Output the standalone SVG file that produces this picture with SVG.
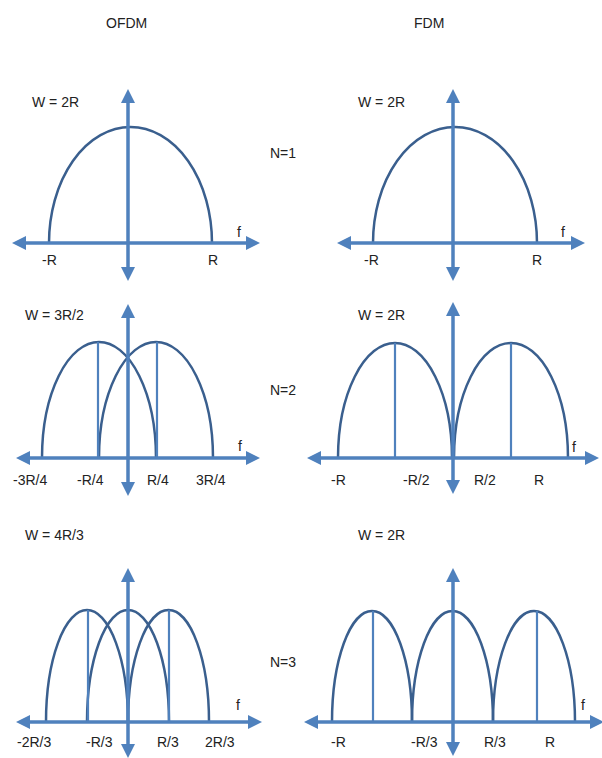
<svg xmlns="http://www.w3.org/2000/svg" width="602" height="758" viewBox="0 0 602 758">
<style>
text{font-family:"Liberation Sans",Arial,sans-serif;font-size:14px;fill:#222}
.ax{stroke:#4f81bd;stroke-width:3.5;fill:none}
.arc{stroke:#3a5f8e;stroke-width:2.5;fill:none}
.cl{stroke:#4f81bd;stroke-width:2.2;fill:none}
</style>
<defs>
<marker id="ah" markerUnits="userSpaceOnUse" markerWidth="14" markerHeight="14" viewBox="0 0 14 14" refX="4" refY="7" orient="auto-start-reverse">
<path d="M0,0 L14,7 L0,14 Z" fill="#4f81bd"/>
</marker>
</defs>
<rect width="602" height="758" fill="#fff"/>
<text x="106" y="28">OFDM</text>
<text x="414" y="28">FDM</text>
<text x="270" y="158">N=1</text>
<text x="270" y="395">N=2</text>
<text x="270" y="667">N=3</text>

<g id="ofdm-n1">
<path class="arc" d="M49,243 A81.5,116 0 0 1 212,243"/>
<text x="32" y="107">W = 2R</text>
<text x="42" y="265">-R</text>
<text x="208" y="265">R</text>
<text x="237" y="237">f</text>
</g>
<g id="fdm-n1">
<path class="arc" d="M373,243 A82,116 0 0 1 537,243"/>
<text x="358" y="107">W = 2R</text>
<text x="364" y="265">-R</text>
<text x="532" y="265">R</text>
<text x="561" y="237">f</text>
</g>
<g id="ofdm-n2">
<path class="arc" d="M42,458 A57,116 0 0 1 156,458"/>
<path class="arc" d="M99,458 A57,116 0 0 1 213,458"/>
<path class="cl" d="M98,342 V458 M157,342 V458"/>
<text x="25" y="320">W = 3R/2</text>
<text x="13" y="485">-3R/4</text>
<text x="77" y="485">-R/4</text>
<text x="147" y="485">R/4</text>
<text x="196" y="485">3R/4</text>
<text x="238" y="451">f</text>
</g>
<g id="fdm-n2">
<path class="arc" d="M338,458 A57,115 0 0 1 452,458"/>
<path class="arc" d="M454,458 A57,115 0 0 1 568,458"/>
<path class="cl" d="M395,343 V458 M511,343 V458"/>
<text x="358" y="320">W = 2R</text>
<text x="331" y="485">-R</text>
<text x="403" y="485">-R/2</text>
<text x="474" y="485">R/2</text>
<text x="534" y="485">R</text>
<text x="572" y="452">f</text>
</g>
<g id="ofdm-n3">
<path class="arc" d="M46,722 A41,112 0 0 1 128,722"/>
<path class="arc" d="M87,722 A41,112 0 0 1 169,722"/>
<path class="arc" d="M128,722 A40.5,112 0 0 1 209,722"/>
<path class="cl" d="M88,610 V722 M169,610 V722"/>
<text x="25" y="540">W = 4R/3</text>
<text x="17" y="747">-2R/3</text>
<text x="86" y="747">-R/3</text>
<text x="157" y="747">R/3</text>
<text x="205" y="747">2R/3</text>
<text x="236" y="710">f</text>
</g>
<g id="fdm-n3">
<path class="arc" d="M332,722 A40,111 0 0 1 412,722"/>
<path class="arc" d="M412,722 A40.5,111 0 0 1 493,722"/>
<path class="arc" d="M493,722 A41,111 0 0 1 575,722"/>
<path class="cl" d="M373,611 V722 M537,611 V722"/>
<text x="358" y="540">W = 2R</text>
<text x="331" y="747">-R</text>
<text x="411" y="747">-R/3</text>
<text x="484" y="747">R/3</text>
<text x="545" y="747">R</text>
<text x="581" y="710">f</text>
</g>

<g id="connectors">
<line class="ax" x1="22" y1="243" x2="250" y2="243" marker-start="url(#ah)" marker-end="url(#ah)"/>
<line class="ax" x1="128" y1="99" x2="128" y2="271" marker-start="url(#ah)" marker-end="url(#ah)"/>
<line class="ax" x1="347" y1="243" x2="575" y2="243" marker-start="url(#ah)" marker-end="url(#ah)"/>
<line class="ax" x1="453" y1="99" x2="453" y2="271" marker-start="url(#ah)" marker-end="url(#ah)"/>
<line class="ax" x1="26" y1="458" x2="250" y2="458" marker-start="url(#ah)" marker-end="url(#ah)"/>
<line class="ax" x1="128" y1="314" x2="128" y2="486" marker-start="url(#ah)" marker-end="url(#ah)"/>
<line class="ax" x1="317" y1="458" x2="589" y2="458" marker-start="url(#ah)" marker-end="url(#ah)"/>
<line class="ax" x1="453" y1="312" x2="453" y2="484" marker-start="url(#ah)" marker-end="url(#ah)"/>
<line class="ax" x1="26" y1="722" x2="252" y2="722" marker-start="url(#ah)" marker-end="url(#ah)"/>
<line class="ax" x1="128" y1="578" x2="128" y2="748" marker-start="url(#ah)" marker-end="url(#ah)"/>
<line class="ax" x1="314" y1="722" x2="594" y2="722" marker-start="url(#ah)" marker-end="url(#ah)"/>
<line class="ax" x1="453" y1="578" x2="453" y2="746" marker-start="url(#ah)" marker-end="url(#ah)"/>
</g>
</svg>
